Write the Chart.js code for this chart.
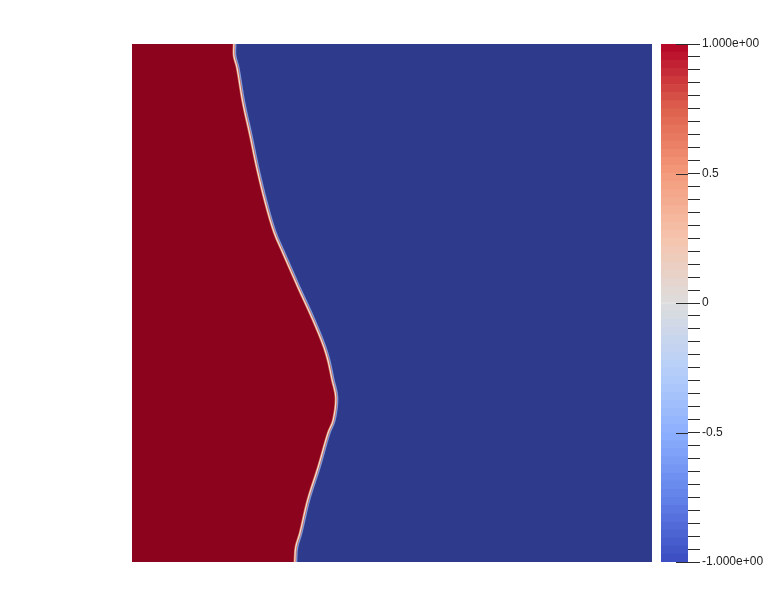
<!DOCTYPE html>
<html>
<head>
<meta charset="utf-8">
<script src="https://cdn.jsdelivr.net/npm/chart.js@4/dist/chart.umd.min.js"></script>
<style>
  body { margin: 0; background: #fff; }
  #wrap { position: relative; width: 784px; height: 607px; }
  #wrap canvas { position: absolute; left: 0; top: 0; }
</style>
</head>
<body>
<div id="wrap">
  <canvas id="field" width="784" height="607"></canvas>
  <canvas id="colorbar" width="784" height="607"></canvas>
</div>
<script>
// interface between the two phases, y = 1 at top of the domain, x = 0 at left
var frontY = [1.0, 0.977, 0.954, 0.888, 0.824, 0.761, 0.695, 0.637, 0.597, 0.531, 0.467, 0.403, 0.351, 0.317, 0.274, 0.249, 0.183, 0.120, 0.056, 0.029, 0.0];
var frontX = [0.196, 0.196, 0.202, 0.213, 0.227, 0.240, 0.256, 0.273, 0.290, 0.319, 0.348, 0.373, 0.385, 0.392, 0.387, 0.377, 0.358, 0.338, 0.323, 0.315, 0.313];

// colour bar range and labels
var cbMin = -1, cbMax = 1, cbBands = 64;
var majorTicks = [1, 0.5, 0, -0.5, -1];
var majorLabels = ['1.000e+00', '0.5', '0', '-0.5', '-1.000e+00'];

// cool to warm map
var cmapStops = [-1, -0.75, -0.5, -0.25, 0, 0.25, 0.5, 0.75, 1];
var cmapColors = [[59,76,192], [98,130,234], [141,176,254], [184,208,249], [221,221,221], [245,196,173], [244,154,123], [222,96,77], [180,4,38]];

function cmap(v) {
    for (var i = 0; i < cmapStops.length - 1; i++) {
        if (v <= cmapStops[i + 1]) {
            var t = (v - cmapStops[i]) / (cmapStops[i + 1] - cmapStops[i]);
            var a = cmapColors[i], b = cmapColors[i + 1];
            return 'rgb(' + Math.round(a[0] + (b[0] - a[0]) * t) + ',' + Math.round(a[1] + (b[1] - a[1]) * t) + ',' + Math.round(a[2] + (b[2] - a[2]) * t) + ')';
        }
    }
    return 'rgb(180,4,38)';
}

var front = frontY.map(function (y, i) { return {x: frontX[i], y: y}; });

var fieldChart = new Chart(document.getElementById('field').getContext('2d'), {
    type: 'line',
    data: {
        datasets: [{
            data: front,
            borderColor: 'rgba(236,230,226,0.95)',
            borderWidth: 1.2,
            fill: false
        }, {
            data: front,
            borderColor: '#d86a4c',
            borderWidth: 2.5,
            backgroundColor: '#8b031d',
            fill: {value: 0}
        }, {
            data: front,
            borderColor: '#7f9ad8',
            borderWidth: 5,
            backgroundColor: '#2e3a8c',
            fill: {value: 1}
        }]
    },
    options: {
        responsive: false,
        animation: false,
        indexAxis: 'y',
        layout: { padding: { left: 132, right: 132, top: 44, bottom: 45 } },
        elements: { point: { radius: 0 }, line: { tension: 0.4 } },
        scales: {
            x: { type: 'linear', min: 0, max: 1, display: false },
            y: { type: 'linear', min: 0, max: 1, display: false }
        },
        plugins: { legend: { display: false }, tooltip: { enabled: false } }
    }
});

var bandSets = [];
for (var i = 0; i < cbBands; i++) {
    var lo = cbMin + (cbMax - cbMin) * i / cbBands;
    var hi = cbMin + (cbMax - cbMin) * (i + 1) / cbBands;
    bandSets.push({
        data: [[lo, hi]],
        backgroundColor: cmap((lo + hi) / 2),
        barPercentage: 1,
        categoryPercentage: 1,
        grouped: false
    });
}

var majorTickPlugin = {
    id: 'majorTicks',
    afterDraw: function (chart) {
        var ctx = chart.ctx, area = chart.chartArea, y = chart.scales.y;
        ctx.save();
        ctx.strokeStyle = '#2b2b2b';
        ctx.lineWidth = 1;
        majorTicks.forEach(function (m) {
            var py = Math.round(y.getPixelForValue(m)) + 0.5;
            ctx.beginPath();
            ctx.moveTo(area.right - 12, py);
            ctx.lineTo(area.right, py);
            ctx.stroke();
        });
        ctx.restore();
    }
};

var cbChart = new Chart(document.getElementById('colorbar').getContext('2d'), {
    type: 'bar',
    data: { labels: [''], datasets: bandSets },
    options: {
        responsive: false,
        animation: false,
        layout: { padding: { left: 661, right: 0, top: 44, bottom: 45 } },
        scales: {
            x: { display: false },
            y: {
                position: 'right',
                min: cbMin,
                max: cbMax,
                afterFit: function (s) { s.width = 96; },
                border: { display: false },
                grid: { drawOnChartArea: false, tickLength: 12, color: '#2b2b2b', lineWidth: 1 },
                ticks: {
                    stepSize: 0.05,
                    autoSkip: false,
                    padding: 2,
                    color: '#222',
                    font: { family: 'Liberation Sans, Arial, sans-serif', size: 12 },
                    callback: function (v) {
                        for (var k = 0; k < majorTicks.length; k++) {
                            if (Math.abs(majorTicks[k] - v) < 1e-6) return majorLabels[k];
                        }
                        return '';
                    }
                }
            }
        },
        plugins: { legend: { display: false }, tooltip: { enabled: false } }
    },
    plugins: [majorTickPlugin]
});
</script>
</body>
</html>
